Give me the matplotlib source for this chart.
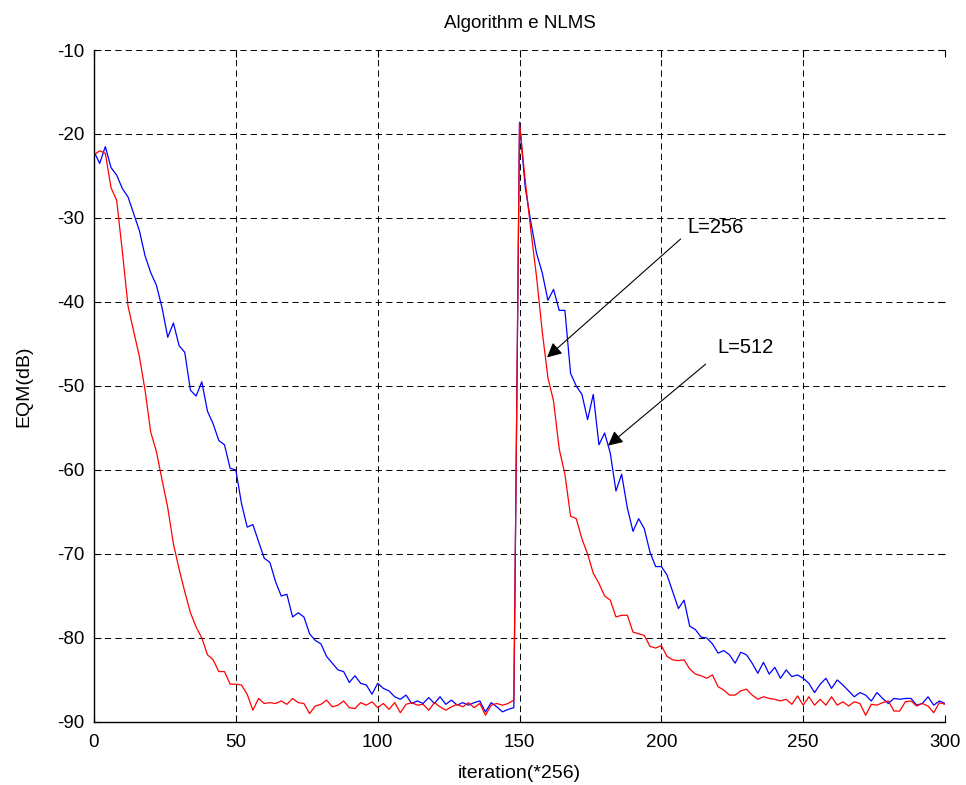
import numpy as np
import matplotlib
matplotlib.use("Agg")
import matplotlib.pyplot as plt

plt.rcParams['font.family'] = ['Liberation Sans', 'DejaVu Sans']
plt.rcParams['lines.scale_dashes'] = False
plt.rcParams['axes.unicode_minus'] = False

# iteration index (*256), sampled every 2
iterations = list(range(0, 301, 2))

eqm_L512 = [
    -22.1, -23.5, -21.5, -24.0, -24.9, -26.5, -27.5, -29.5, -31.5, -34.5,
    -36.5, -38.0, -40.7, -44.2, -42.5, -45.2, -46.0, -50.5, -51.2, -49.5,
    -53.0, -54.5, -56.5, -57.0, -59.8, -60.0, -64.0, -66.8, -66.5, -68.5,
    -70.5, -71.0, -73.3, -75.0, -74.8, -77.5, -77.0, -77.5, -79.5, -80.3,
    -80.7, -82.2, -83.0, -83.8, -84.0, -85.3, -84.5, -85.4, -85.6, -86.7,
    -85.4, -86.0, -86.3, -87.0, -87.3, -86.8, -87.8, -87.5, -87.8, -87.1,
    -87.8, -87.0, -87.9, -87.4, -88.0, -87.7, -88.0, -87.7, -87.5, -88.8,
    -87.7, -88.2, -88.8, -88.5, -88.3,
    -18.6,
    -26.3, -30.5, -34.2, -36.5, -39.8, -38.5, -41.0, -41.0, -48.5, -50.0,
    -51.0, -54.0, -51.0, -57.0, -55.6, -58.0, -62.5, -60.5, -64.5, -67.3,
    -65.8, -67.0, -69.8, -71.5, -71.5, -72.5, -74.5, -76.5, -75.5, -78.6,
    -79.0, -79.9, -80.0, -80.7, -81.8, -81.5, -82.0, -83.0, -81.7, -82.0,
    -83.0, -84.2, -82.9, -84.3, -83.5, -84.8, -83.8, -84.6, -84.4, -84.8,
    -85.4, -86.5, -85.5, -84.8, -86.0, -85.0, -85.6, -86.3, -87.0, -86.5,
    -86.8, -87.5, -86.5, -87.2, -87.8, -87.2, -87.3, -87.2, -87.2, -88.0,
    -87.8, -87.0, -88.0, -87.5, -87.8,
]

eqm_L256 = [
    -22.5, -22.0, -22.3, -26.4, -27.9, -34.0, -40.5, -43.5, -46.5, -50.5,
    -55.5, -57.8, -61.2, -64.5, -68.8, -71.8, -74.5, -77.0, -78.7, -80.0,
    -82.0, -82.6, -84.0, -84.0, -85.5, -85.5, -85.6, -86.7, -88.6, -87.2,
    -87.8, -87.7, -87.8, -87.5, -87.9, -87.2, -87.7, -87.8, -89.0, -88.1,
    -87.9, -87.4, -88.2, -88.0, -87.5, -88.3, -88.4, -87.7, -88.0, -87.6,
    -88.3, -87.8, -88.5, -87.7, -88.9, -87.9, -87.7, -88.0, -87.9, -88.6,
    -87.7, -88.2, -88.6, -88.2, -87.9, -88.2, -87.7, -88.3, -87.8, -89.2,
    -88.0, -87.8, -88.0, -87.8, -87.4,
    -18.7,
    -25.5, -31.5, -37.0, -43.5, -49.0, -51.8, -57.5, -60.5, -65.5, -65.8,
    -68.2, -70.0, -72.3, -73.5, -75.0, -75.5, -77.5, -77.3, -77.3, -79.3,
    -79.5, -79.7, -81.0, -81.2, -80.9, -82.2, -82.6, -82.7, -82.6, -83.7,
    -84.3, -84.5, -84.8, -84.4, -85.8, -86.2, -86.8, -86.8, -86.3, -86.1,
    -86.8, -87.3, -87.0, -87.2, -87.3, -87.5, -87.3, -87.9, -86.9, -88.0,
    -87.0, -88.0, -87.3, -88.0, -87.0, -88.0, -87.6, -88.1, -87.6, -87.8,
    -89.2, -87.9, -88.0, -87.7, -87.5, -88.7, -88.7, -87.6, -87.5, -88.1,
    -87.8, -88.1, -88.9, -87.7, -87.9,
]

xticks = [0, 50, 100, 150, 200, 250, 300]
yticks = [-90, -80, -70, -60, -50, -40, -30, -20, -10]

fig = plt.figure(figsize=(9.66, 7.85), dpi=100)
ax = fig.add_axes([0.0973, 0.0803, 0.881, 0.856])

ax.plot(iterations, eqm_L512, color='#0000ff', lw=0.9)
ax.plot(iterations, eqm_L256, color='#ff0000', lw=0.9)

ax.set_xlim(0, 300)
ax.set_ylim(-90, -10)
ax.set_xticks(xticks)
ax.set_yticks(yticks)
ax.tick_params(direction='in', length=5, width=0.8, labelsize=13.5,
               top=True, right=True)
ax.tick_params(axis='x', pad=9)
ax.tick_params(axis='y', pad=7)
ax.grid(True, color='black', linestyle=(0, (4.5, 3.0)), linewidth=0.7)
ax.spines['top'].set_visible(False)
ax.spines['right'].set_visible(False)
ax.spines['left'].set_linewidth(1.0)
ax.spines['bottom'].set_linewidth(1.0)

ax.set_title('Algorithm e NLMS', fontsize=13.5, pad=16)
ax.set_xlabel('iteration(*256)', fontsize=14, labelpad=10)
ax.set_ylabel('EQM(dB)', fontsize=14, labelpad=18)

arrowprops = dict(arrowstyle='-|>', color='black', lw=0.8, mutation_scale=22,
                  shrinkA=0, shrinkB=0)
ax.annotate('', xy=(159.7, -46.6), xytext=(206.8, -32.5), arrowprops=arrowprops)
ax.annotate('', xy=(181.2, -57.1), xytext=(215.6, -47.4), arrowprops=arrowprops)
ax.text(209.3, -31.1, 'L=256', fontsize=14.5, ha='left', va='center')
ax.text(219.9, -45.4, 'L=512', fontsize=14.5, ha='left', va='center')

fig.savefig('out.png', dpi=100)
